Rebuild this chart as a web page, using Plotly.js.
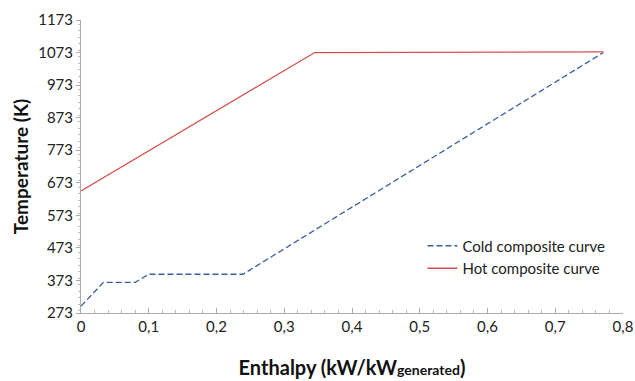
<!DOCTYPE html>
<html>
<head>
<meta charset="utf-8">
<script src="https://cdn.plot.ly/plotly-3.0.1.min.js"></script>
<style>html,body{margin:0;padding:0;background:#fff}#chart{width:635px;height:381px}</style>
</head>
<body>
<div id="chart"></div>
<script>
var coldEnthalpy = [0, 0.033, 0.08, 0.1, 0.239, 0.771];
var coldTemp = [294, 367, 367, 392, 392, 1073];
var hotEnthalpy = [0, 0.345, 0.771];
var hotTemp = [648, 1073, 1075];
var yTicks = [273, 373, 473, 573, 673, 773, 873, 973, 1073, 1173];
var xTicks = [0, 0.1, 0.2, 0.3, 0.4, 0.5, 0.6, 0.7, 0.8];

var font = "Lato, 'Open Sans', sans-serif";
var traces = [
  {x: coldEnthalpy, y: coldTemp, mode: 'lines', name: 'Cold composite curve',
   line: {color: '#3a5fa0', width: 1.3, dash: '6px,3px'}},
  {x: hotEnthalpy, y: hotTemp, mode: 'lines', name: 'Hot composite curve',
   line: {color: '#d2504c', width: 1.3}}
];
var layout = {
  width: 635, height: 381,
  margin: {l: 81, r: 12, t: 20, b: 68},
  paper_bgcolor: '#fff', plot_bgcolor: '#fff',
  separators: ', ',
  font: {family: font, color: '#222', size: 14},
  showlegend: true,
  legend: {x: 0.63, y: 0.285, xanchor: 'left', yanchor: 'top', bgcolor: 'rgba(0,0,0,0)',
           font: {size: 15, color: '#222'}, tracegroupgap: 0},
  xaxis: {range: [0, 0.8], tickvals: xTicks, ticktext: xTicks.map(function(v){return String(v).replace('.', ',');}),
          showgrid: false, zeroline: false, showline: true, linecolor: '#aaa', linewidth: 1,
          ticks: 'inside', ticklen: 5, tickcolor: '#aaa',
          minor: {dtick: 0.02, ticks: 'inside', ticklen: 3, tickcolor: '#bbb'},
          tickfont: {size: 15, color: '#222'},
          title: {text: "<b>Enthalpy (kW/kW<span style='font-size:14px'>generated</span>)</b>", font: {size: 20, color: '#111'}, standoff: 26}},
  yaxis: {range: [273, 1173], tickvals: yTicks,
          showgrid: false, zeroline: false, showline: true, linecolor: '#aaa', linewidth: 1,
          ticks: 'outside', ticklen: 4, tickcolor: '#aaa',
          minor: {dtick: 20, ticks: 'outside', ticklen: 2, tickcolor: '#bbb'},
          tickfont: {size: 15, color: '#222'},
          title: {text: '<b>Temperature (K)</b>', font: {size: 19, color: '#111'}, standoff: 4}}
};
Plotly.newPlot('chart', traces, layout, {displayModeBar: false, staticPlot: true});
</script>
</body>
</html>
